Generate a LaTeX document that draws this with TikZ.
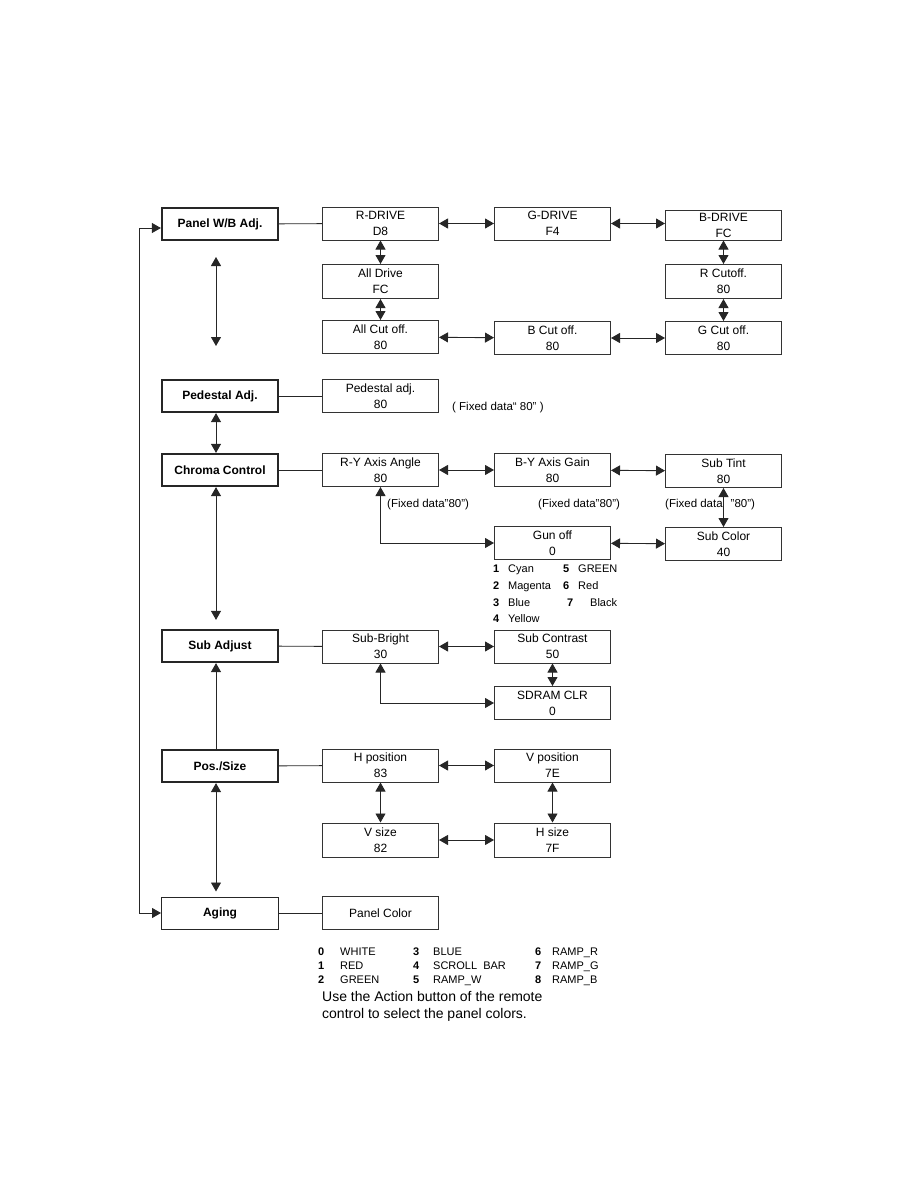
\documentclass[tikz,border=0pt]{standalone}
\usepackage{fontspec}
\setmainfont{Liberation Sans}
\usetikzlibrary{arrows.meta,positioning,calc}

\begin{document}
\begin{tikzpicture}[x=1pt,y=-1pt,font=\fontsize{12}{16}\selectfont,
  menu/.style={draw=black!85,line width=2.2pt,minimum width=116pt,minimum height=32pt,inner sep=0pt,font=\fontsize{12}{16}\selectfont\bfseries},
  item/.style={draw=black!80,line width=1pt,minimum width=116pt,minimum height=33pt,inner sep=0pt,align=center},
  link/.style={line width=0.9pt,black!85},
  both/.style={link,{Triangle[length=9pt,width=10pt]}-{Triangle[length=9pt,width=10pt]}},
  one/.style={link,-{Triangle[length=9pt,width=10pt]}},
  note/.style={anchor=base west,inner sep=0pt,font=\fontsize{11.5}{14}\selectfont},
  lst/.style={anchor=base west,inner sep=0pt,font=\fontsize{11}{13}\selectfont}]
\useasboundingbox (0,0) rectangle (918,1188);

% main menu column
\node[menu] (pwb) at (220,224) {Panel W/B Adj.};
\node[menu] (ped) at (220,396) {Pedestal Adj.};
\node[menu] (chr) at (220,470) {Chroma Control};
\node[menu] (sub) at (220,646) {Sub Adjust};
\node[menu] (pos) at (220,766) {Pos./Size};
\node[menu,line width=1pt,minimum width=117pt] (aging) at (220,913) {Aging};

% panel w/b
\node[item] (rdrive) at (380.5,223.5) {R-DRIVE\\D8};
\node[item] (gdrive) at (552.5,223.5) {G-DRIVE\\F4};
\node[item,minimum height=30pt] (bdrive) at (723.5,225) {B-DRIVE\\FC};
\node[item,minimum height=34pt] (alldrv) at (380.5,281.5) {All Drive\\FC};
\node[item,minimum height=34pt] (rcut) at (723.5,281.5) {R Cutoff.\\80};
\node[item] (allcut) at (380.5,337) {All Cut off.\\80};
\node[item] (bcut) at (552.5,338) {B Cut off.\\80};
\node[item] (gcut) at (723.5,338) {G Cut off.\\80};
\draw[link] (pwb) -- (rdrive);
\draw[both] (rdrive) -- (gdrive);
\draw[both] (gdrive) -- (bdrive.west |- gdrive);
\draw[both] (rdrive) -- (alldrv);
\draw[both] (alldrv) -- (allcut);
\draw[both] (bdrive) -- (rcut);
\draw[both] (rcut) -- (gcut);
\draw[both] (allcut) -- (bcut);
\draw[both] (bcut) -- (gcut);

% pedestal
\node[item] (pedadj) at (380.5,396) {Pedestal adj.\\80};
\node[note] (pednote) at (452,410) {( Fixed data“ 80” )};
\draw[link] (ped) -- (pedadj);

% chroma
\node[item] (rya) at (380.5,470) {R-Y Axis Angle\\80};
\node[item] (bya) at (552.5,470) {B-Y Axis Gain\\80};
\node[item] (tint) at (723.5,471) {Sub Tint\\80};
\node[item] (gunoff) at (552.5,543) {Gun off\\0};
\node[item] (subcol) at (723.5,544) {Sub Color\\40};
\node[note] (fix1) at (387,507) {(Fixed data"80”)};
\node[note] (fix2) at (538,507) {(Fixed data"80”)};
\node[note] (fix3) at (665,507) {(Fixed data\hspace{8pt}"80”)};
\draw[link] (chr) -- (rya);
\draw[both] (rya) -- (bya);
\draw[both] (bya) -- (tint);
\draw[both] (tint) -- (subcol);
\draw[both] (gunoff) -- (subcol);
\draw[both] (rya.south) |- (gunoff.west);
\node[lst] at (493,572) {\textbf{1}}; \node[lst] at (508,572) {Cyan};
\node[lst] at (493,589) {\textbf{2}}; \node[lst] at (508,589) {Magenta};
\node[lst] at (493,606) {\textbf{3}}; \node[lst] at (508,606) {Blue};
\node[lst] at (493,622) {\textbf{4}}; \node[lst] at (508,622) {Yellow};
\node[lst] at (563,572) {\textbf{5}}; \node[lst] at (578,572) {GREEN};
\node[lst] at (563,589) {\textbf{6}}; \node[lst] at (578,589) {Red};
\node[lst] at (567,606) {\textbf{7}}; \node[lst] at (590,606) {Black};

% sub adjust
\node[item] (bright) at (380.5,646.5) {Sub-Bright\\30};
\node[item] (contr) at (552.5,646.5) {Sub Contrast\\50};
\node[item] (sdram) at (552.5,703) {SDRAM CLR\\0};
\draw[link] (sub) -- (bright);
\draw[both] (bright) -- (contr);
\draw[both] (contr) -- (sdram);
\draw[both] (bright.south) |- (sdram.west);

% pos./size
\node[item] (hpos) at (380.5,765.5) {H position\\83};
\node[item] (vpos) at (552.5,765.5) {V position\\7E};
\node[item,minimum height=34pt] (vsize) at (380.5,840) {V size\\82};
\node[item,minimum height=34pt] (hsize) at (552.5,840) {H size\\7F};
\draw[link] (pos) -- (hpos);
\draw[both] (hpos) -- (vpos);
\draw[both] (hpos) -- (vsize);
\draw[both] (vpos) -- (hsize);
\draw[both] (vsize) -- (hsize);

% aging
\node[item] (pcolor) at (380.5,913) {Panel Color};
\draw[link] (aging) -- (pcolor);
\node[lst] at (318,955) {\textbf{0}}; \node[lst] at (340,955) {WHITE};
\node[lst] at (318,969) {\textbf{1}}; \node[lst] at (340,969) {RED};
\node[lst] at (318,983) {\textbf{2}}; \node[lst] at (340,983) {GREEN};
\node[lst] at (413,955) {\textbf{3}}; \node[lst] at (433,955) {BLUE};
\node[lst] at (413,969) {\textbf{4}}; \node[lst] at (433,969) {SCROLL~ BAR};
\node[lst] at (413,983) {\textbf{5}}; \node[lst] at (433,983) {RAMP\_W};
\node[lst] at (535,955) {\textbf{6}}; \node[lst] at (552,955) {RAMP\_R};
\node[lst] at (535,969) {\textbf{7}}; \node[lst] at (552,969) {RAMP\_G};
\node[lst] at (535,983) {\textbf{8}}; \node[lst] at (552,983) {RAMP\_B};
\node[anchor=west,inner sep=0pt,align=left,font=\fontsize{14}{17}\selectfont] (usage) at (322,1006)
  {Use the Action button of the remote\\control to select the panel colors.};

% left column arrows
\coordinate (freetop) at (216,257);
\coordinate (freebot) at (216,346);
\draw[both] (freetop) -- (freebot);
\draw[both] ([xshift=-4pt]ped.south) -- ([xshift=-4pt]chr.north);
\draw[both] ([xshift=-4pt]chr.south) -- ([xshift=-4pt,yshift=9pt]sub.north);
\draw[one] ([xshift=-4pt]pos.north) -- ([xshift=-4pt]sub.south);
\draw[both] ([xshift=-4pt]pos.south) -- ([xshift=-4pt,yshift=5pt]aging.north);
\draw[both] (aging.west) -- ++(-22,0) |- ([yshift=-4pt]pwb.west);
\end{tikzpicture}
\end{document}
